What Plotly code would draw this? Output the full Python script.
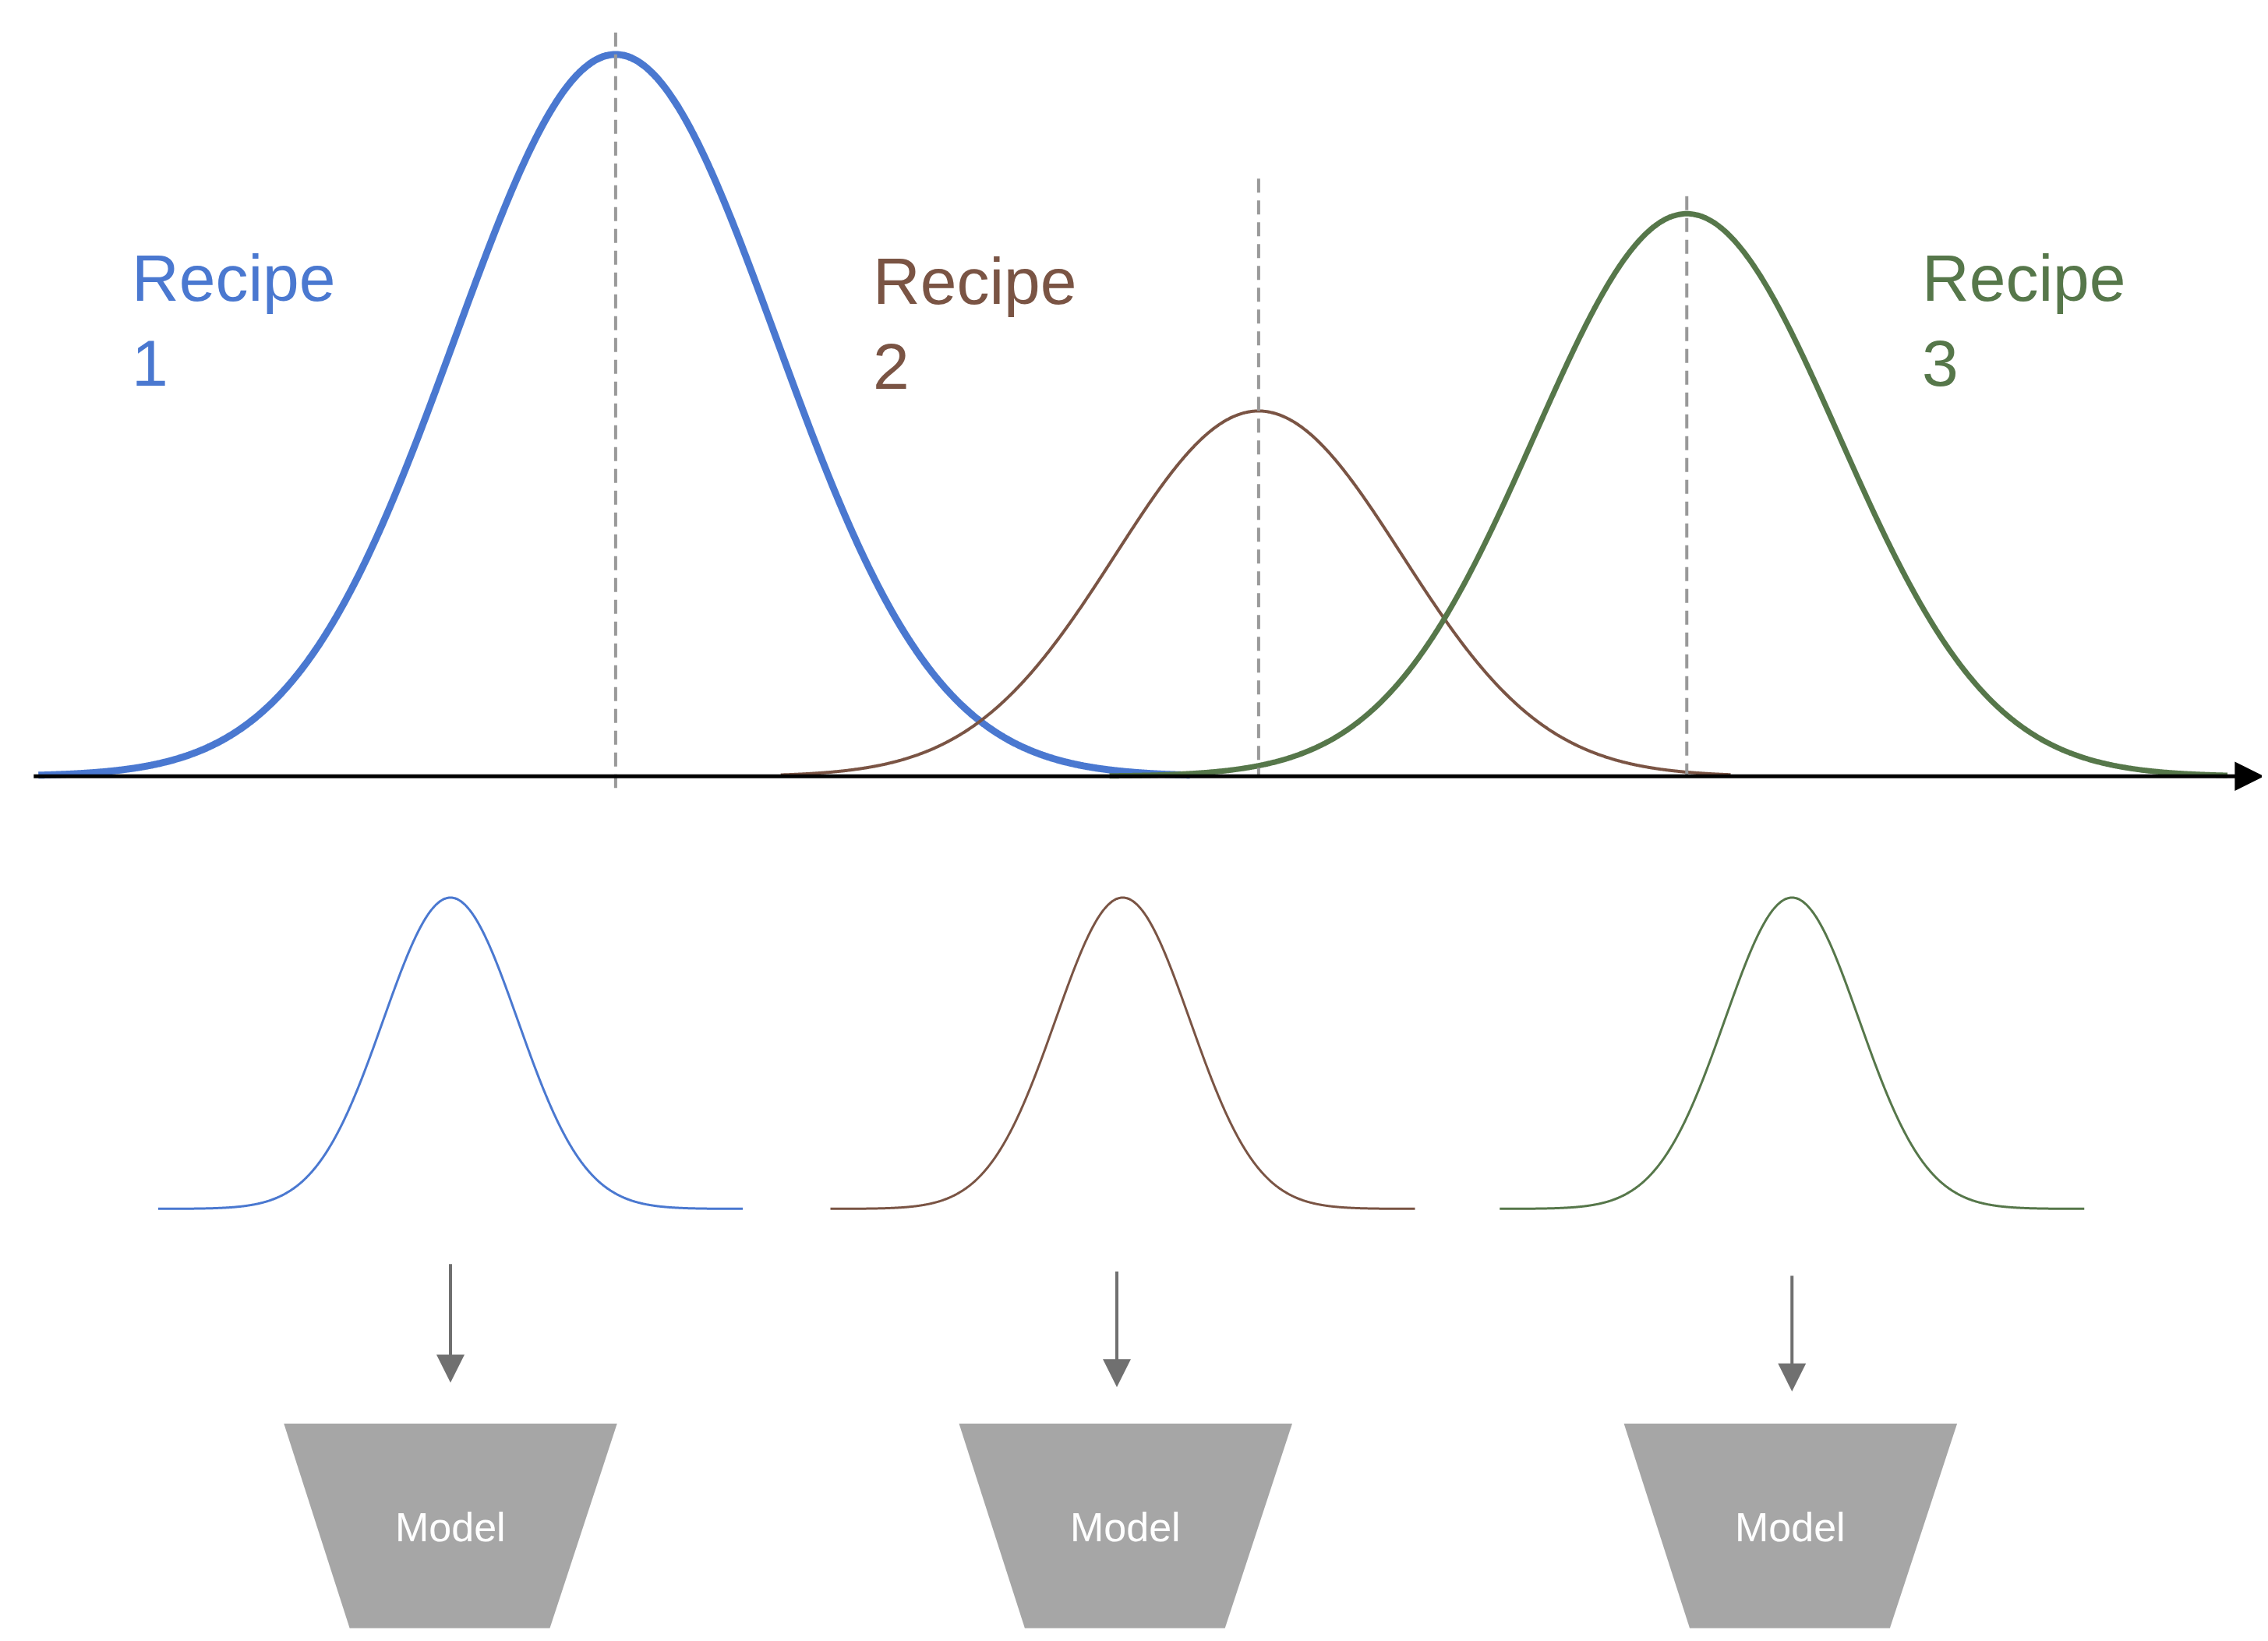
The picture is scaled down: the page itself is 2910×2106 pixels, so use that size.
import numpy as np
import plotly.graph_objects as go

W, H = 1552, 1123  # diagram coordinate units
names = ["Recipe<br>1", "Recipe<br>2", "Recipe<br>3"]
colors = ["#4a78d0", "#7a5444", "#56774a"]
top_mu = [417, 857, 1150]
top_sd = [110, 98, 104]
top_amp = [494, 250, 385]
top_lo = [22, 530, 755]
top_hi = [810, 1180, 1520]
top_w = [9, 4, 7]
base_top = 527
dash_top = [18, 118, 130]
label_x = [85, 592, 1310]
label_y = [160, 162, 160]
bot_mu = [304, 764, 1222]
bot_sd = 46
bot_amp = 213
base_bot = 823
arrow_x = [304, 760, 1222]
arrow_y0 = [860, 865, 868]
arrow_y1 = [942, 945, 948]
model_x = [304, 766, 1221]

fig = go.Figure()
for i in range(3):
    x = np.linspace(top_lo[i], top_hi[i], 800)
    y = base_top - top_amp[i] * np.exp(-0.5 * ((x - top_mu[i]) / top_sd[i]) ** 2)
    fig.add_trace(go.Scatter(x=x, y=y, mode="lines", line=dict(color=colors[i], width=top_w[i], shape="spline"),
                             hoverinfo="skip"))
    xb = np.linspace(bot_mu[i] - 200, bot_mu[i] + 200, 600)
    yb = base_bot - bot_amp * np.exp(-0.5 * ((xb - bot_mu[i]) / bot_sd) ** 2)
    fig.add_trace(go.Scatter(x=xb, y=yb, mode="lines", line=dict(color=colors[i], width=3, shape="spline"),
                             hoverinfo="skip"))
    fig.add_shape(type="line", x0=top_mu[i], x1=top_mu[i], y0=dash_top[i], y1=535 if i == 0 else base_top,
                  line=dict(color="#999999", width=4, dash="18px,10px"))
    fig.add_annotation(x=label_x[i], y=label_y[i], text=names[i], showarrow=False, xanchor="left", yanchor="top",
                       align="left", font=dict(size=84, color=colors[i], family="Liberation Sans, Arial"))
    fig.add_annotation(x=arrow_x[i], y=arrow_y1[i], ax=arrow_x[i], ay=arrow_y0[i], xref="x", yref="y",
                       axref="x", ayref="y", showarrow=True, arrowhead=2, arrowsize=1.8, arrowwidth=4,
                       arrowcolor="#707070", text="")
    c = model_x[i]
    fig.add_shape(type="path", path=f"M {c-114},970 L {c+114},970 L {c+68},1110 L {c-69},1110 Z",
                  fillcolor="#a6a6a6", line=dict(width=0))
    fig.add_annotation(x=c, y=1041, text="Model", showarrow=False,
                       font=dict(size=52, color="white", family="Liberation Sans, Arial"))

fig.add_annotation(x=1545, y=base_top, ax=18, ay=base_top, xref="x", yref="y", axref="x", ayref="y",
                   showarrow=True, arrowhead=2, arrowsize=1.5, arrowwidth=5, arrowcolor="black", text="")

fig.update_layout(width=2910, height=2106, margin=dict(l=0, r=0, t=0, b=0), showlegend=False,
                  plot_bgcolor="white", paper_bgcolor="white",
                  xaxis=dict(range=[0, W], visible=False, fixedrange=True),
                  yaxis=dict(range=[H, 0], visible=False, fixedrange=True))
fig.write_html("out.html")
